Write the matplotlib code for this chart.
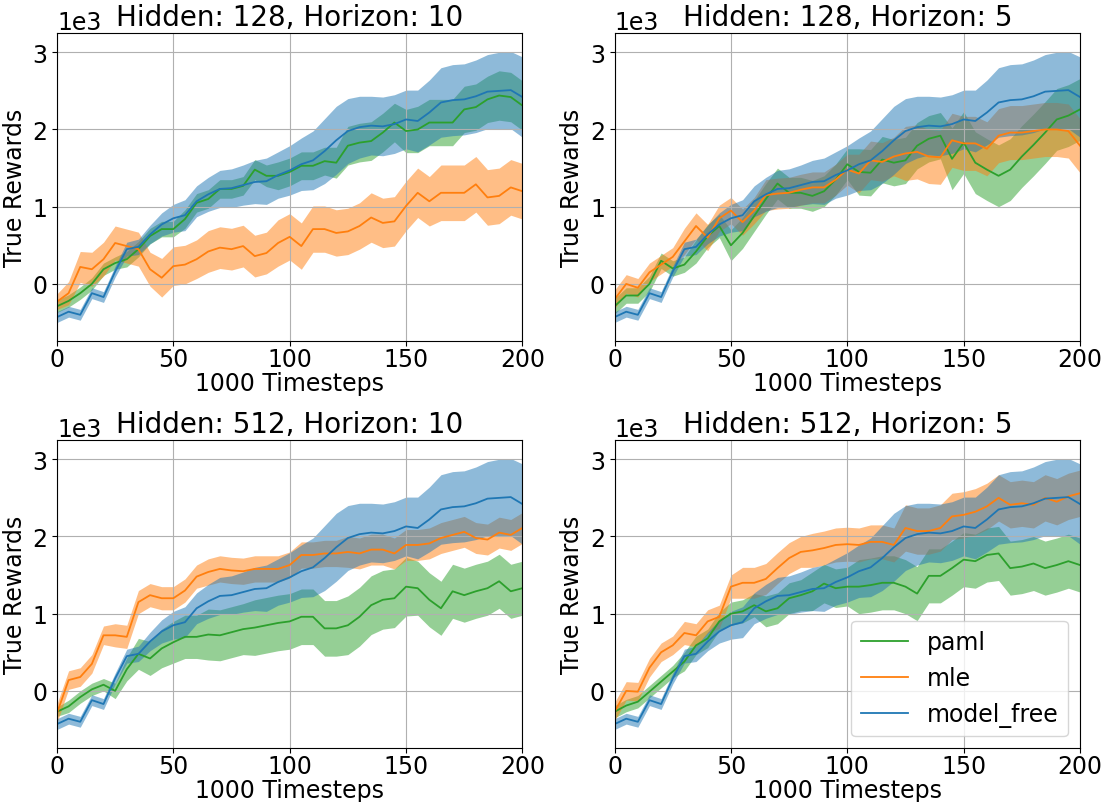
import matplotlib
matplotlib.use('Agg')
import matplotlib.pyplot as plt
import numpy as np

plt.rcParams['font.family'] = ['DejaVu Sans']
plt.rcParams['font.size'] = 17

# timesteps in units of 1000, read every 5
timesteps = np.arange(0, 201, 5)

# rewards in units of 1e3
# model_free does not depend on the model settings, same curve in every panel
model_free = [-0.43, -0.36, -0.40, -0.12, -0.17, 0.16, 0.45, 0.48, 0.64, 0.77,
              0.85, 0.89, 1.07, 1.16, 1.23, 1.24, 1.28, 1.32, 1.33, 1.41,
              1.47, 1.55, 1.60, 1.72, 1.86, 1.98, 2.03, 2.05, 2.04, 2.07,
              2.13, 2.11, 2.22, 2.35, 2.38, 2.39, 2.43, 2.49, 2.50, 2.51, 2.42]
model_free_sd = [0.07, 0.07, 0.07, 0.07, 0.07, 0.07, 0.09, 0.10, 0.12, 0.15,
                 0.18, 0.20, 0.20, 0.22, 0.24, 0.25, 0.26, 0.28, 0.30, 0.30,
                 0.32, 0.34, 0.38, 0.42, 0.44, 0.42, 0.40, 0.38, 0.38, 0.38,
                 0.38, 0.40, 0.42, 0.45, 0.46, 0.46, 0.47, 0.48, 0.50, 0.50, 0.52]

# Hidden 128, Horizon 10
paml_128_10 = [-0.29, -0.22, -0.12, 0.00, 0.19, 0.27, 0.32, 0.45, 0.62, 0.71,
               0.71, 0.84, 1.05, 1.10, 1.23, 1.23, 1.27, 1.48, 1.40, 1.40,
               1.45, 1.53, 1.53, 1.59, 1.57, 1.79, 1.83, 1.85, 1.96, 2.09,
               1.98, 2.00, 2.09, 2.09, 2.09, 2.26, 2.29, 2.39, 2.44, 2.42, 2.31]
paml_128_10_sd = [0.08, 0.08, 0.08, 0.08, 0.08, 0.08, 0.10, 0.10, 0.10, 0.10,
                  0.10, 0.12, 0.12, 0.12, 0.12, 0.12, 0.12, 0.13, 0.14, 0.18,
                  0.18, 0.18, 0.18, 0.18, 0.20, 0.25, 0.25, 0.25, 0.25, 0.25,
                  0.28, 0.30, 0.30, 0.30, 0.30, 0.30, 0.30, 0.30, 0.32, 0.32, 0.32]
mle_128_10 = [-0.23, -0.12, 0.22, 0.19, 0.32, 0.53, 0.49, 0.45, 0.19, 0.08,
              0.23, 0.25, 0.32, 0.42, 0.47, 0.45, 0.49, 0.36, 0.40, 0.53,
              0.61, 0.49, 0.71, 0.71, 0.66, 0.68, 0.75, 0.86, 0.79, 0.81,
              1.01, 1.18, 1.07, 1.18, 1.18, 1.18, 1.29, 1.12, 1.14, 1.25, 1.20]
mle_128_10_sd = [0.10, 0.15, 0.20, 0.22, 0.22, 0.22, 0.22, 0.22, 0.22, 0.25,
                 0.25, 0.25, 0.25, 0.27, 0.27, 0.27, 0.27, 0.27, 0.27, 0.30,
                 0.30, 0.30, 0.30, 0.30, 0.30, 0.30, 0.30, 0.32, 0.32, 0.32,
                 0.32, 0.32, 0.32, 0.36, 0.36, 0.36, 0.36, 0.36, 0.36, 0.36, 0.36]

# Hidden 128, Horizon 5
paml_128_5 = [-0.29, -0.15, -0.15, 0.00, 0.30, 0.20, 0.25, 0.42, 0.62, 0.75,
              0.50, 0.66, 0.88, 1.10, 1.30, 1.18, 1.18, 1.14, 1.20, 1.35,
              1.55, 1.45, 1.44, 1.61, 1.57, 1.60, 1.79, 1.88, 1.92, 1.62,
              1.83, 1.57, 1.48, 1.40, 1.48, 1.65, 1.80, 1.96, 2.13, 2.18, 2.26]
paml_128_5_sd = [0.10, 0.10, 0.10, 0.10, 0.10, 0.10, 0.10, 0.15, 0.15, 0.15,
                 0.20, 0.20, 0.20, 0.20, 0.20, 0.20, 0.20, 0.20, 0.20, 0.20,
                 0.20, 0.30, 0.30, 0.30, 0.30, 0.30, 0.30, 0.30, 0.30, 0.40,
                 0.40, 0.40, 0.40, 0.40, 0.40, 0.40, 0.40, 0.40, 0.40, 0.40, 0.40]
mle_128_5 = [-0.20, 0.00, -0.05, 0.15, 0.25, 0.35, 0.55, 0.75, 0.60, 0.85,
             0.95, 0.80, 0.95, 1.15, 1.17, 1.18, 1.22, 1.25, 1.25, 1.35,
             1.48, 1.43, 1.60, 1.58, 1.65, 1.69, 1.71, 1.65, 1.64, 1.86,
             1.82, 1.82, 1.75, 1.92, 1.96, 1.96, 1.98, 2.00, 2.00, 1.98, 1.79]
mle_128_5_sd = [0.12, 0.12, 0.12, 0.12, 0.12, 0.12, 0.17, 0.17, 0.17, 0.17,
                0.17, 0.17, 0.17, 0.20, 0.20, 0.20, 0.20, 0.20, 0.20, 0.20,
                0.20, 0.25, 0.25, 0.25, 0.25, 0.35, 0.35, 0.35, 0.35, 0.35,
                0.35, 0.35, 0.35, 0.35, 0.35, 0.35, 0.35, 0.35, 0.35, 0.35, 0.35]

# Hidden 512, Horizon 10
paml_512_10 = [-0.27, -0.20, -0.08, 0.02, 0.08, 0.00, 0.28, 0.48, 0.42, 0.55,
               0.63, 0.70, 0.70, 0.73, 0.72, 0.76, 0.80, 0.82, 0.85, 0.88,
               0.90, 0.96, 0.96, 0.81, 0.81, 0.85, 0.96, 1.11, 1.18, 1.20,
               1.35, 1.33, 1.18, 1.07, 1.29, 1.24, 1.29, 1.33, 1.42, 1.29, 1.33]
paml_512_10_sd = [0.06, 0.08, 0.08, 0.08, 0.08, 0.10, 0.15, 0.20, 0.22, 0.25,
                  0.27, 0.28, 0.28, 0.33, 0.33, 0.33, 0.33, 0.36, 0.36, 0.36,
                  0.36, 0.36, 0.36, 0.36, 0.36, 0.38, 0.38, 0.38, 0.38, 0.38,
                  0.38, 0.35, 0.35, 0.35, 0.35, 0.35, 0.35, 0.35, 0.35, 0.35, 0.35]
mle_512_10 = [-0.29, 0.14, 0.18, 0.35, 0.72, 0.72, 0.70, 1.15, 1.24, 1.20,
              1.20, 1.30, 1.48, 1.54, 1.58, 1.56, 1.55, 1.58, 1.58, 1.58,
              1.63, 1.76, 1.76, 1.78, 1.78, 1.80, 1.78, 1.83, 1.83, 1.78,
              1.89, 1.89, 1.91, 1.98, 2.02, 2.06, 1.98, 1.96, 2.05, 2.02, 2.11]
mle_512_10_sd = [0.12, 0.12, 0.12, 0.12, 0.12, 0.15, 0.15, 0.15, 0.15, 0.15,
                 0.15, 0.15, 0.15, 0.17, 0.17, 0.17, 0.17, 0.17, 0.17, 0.17,
                 0.17, 0.17, 0.17, 0.17, 0.17, 0.20, 0.20, 0.20, 0.20, 0.20,
                 0.20, 0.20, 0.20, 0.20, 0.20, 0.20, 0.20, 0.20, 0.20, 0.20, 0.20]

# Hidden 512, Horizon 5
paml_512_5 = [-0.27, -0.19, -0.14, -0.01, 0.12, 0.25, 0.38, 0.59, 0.68, 0.90,
              1.00, 1.03, 1.11, 1.03, 1.07, 1.20, 1.24, 1.29, 1.39, 1.33,
              1.35, 1.35, 1.37, 1.40, 1.40, 1.35, 1.26, 1.49, 1.49, 1.59,
              1.70, 1.68, 1.76, 1.78, 1.59, 1.61, 1.65, 1.59, 1.63, 1.68, 1.63]
paml_512_5_sd = [0.08, 0.08, 0.08, 0.08, 0.08, 0.08, 0.12, 0.12, 0.12, 0.12,
                 0.15, 0.15, 0.15, 0.20, 0.20, 0.20, 0.20, 0.25, 0.25, 0.25,
                 0.25, 0.35, 0.35, 0.35, 0.35, 0.35, 0.35, 0.35, 0.35, 0.35,
                 0.35, 0.35, 0.35, 0.35, 0.35, 0.35, 0.35, 0.35, 0.35, 0.35, 0.35]
mle_512_5 = [-0.27, 0.00, -0.01, 0.30, 0.50, 0.59, 0.75, 0.72, 0.90, 0.96,
             1.35, 1.40, 1.40, 1.45, 1.59, 1.72, 1.80, 1.82, 1.85, 1.89,
             1.90, 1.89, 1.93, 1.93, 1.89, 2.11, 2.07, 2.07, 2.11, 2.26,
             2.28, 2.32, 2.39, 2.50, 2.41, 2.43, 2.41, 2.50, 2.45, 2.52, 2.56]
mle_512_5_sd = [0.12, 0.12, 0.12, 0.12, 0.12, 0.12, 0.15, 0.15, 0.15, 0.15,
                0.15, 0.20, 0.20, 0.20, 0.20, 0.20, 0.20, 0.22, 0.22, 0.22,
                0.22, 0.22, 0.22, 0.22, 0.22, 0.30, 0.30, 0.30, 0.30, 0.30,
                0.30, 0.30, 0.30, 0.30, 0.30, 0.30, 0.30, 0.30, 0.30, 0.30, 0.30]

titles = ['Hidden: 128, Horizon: 10', 'Hidden: 128, Horizon: 5',
          'Hidden: 512, Horizon: 10', 'Hidden: 512, Horizon: 5']
paml_runs = [(paml_128_10, paml_128_10_sd), (paml_128_5, paml_128_5_sd),
             (paml_512_10, paml_512_10_sd), (paml_512_5, paml_512_5_sd)]
mle_runs = [(mle_128_10, mle_128_10_sd), (mle_128_5, mle_128_5_sd),
            (mle_512_10, mle_512_10_sd), (mle_512_5, mle_512_5_sd)]

fig, axes = plt.subplots(2, 2, figsize=(11.06, 8.03), dpi=100)
fig.subplots_adjust(left=0.0515, right=0.9765, bottom=0.0672, top=0.9577,
                    wspace=0.198, hspace=0.321)


def plot_run(ax, mean, sd, color, label):
    mean = np.array(mean) * 1000
    sd = np.array(sd) * 1000
    ax.fill_between(timesteps, mean - sd, mean + sd, color=color, alpha=0.5, linewidth=0)
    ax.plot(timesteps, mean, color=color, label=label, linewidth=1.3)


for i, ax in enumerate(axes.flat):
    plot_run(ax, *paml_runs[i], 'tab:green', 'paml')
    plot_run(ax, *mle_runs[i], 'tab:orange', 'mle')
    plot_run(ax, model_free, model_free_sd, 'tab:blue', 'model_free')
    ax.set_title(titles[i], fontsize=20)
    ax.set_xlim(0, 200)
    ax.set_ylim(-740, 3250)
    ax.set_xticks([0, 50, 100, 150, 200])
    ax.set_yticks([0, 1000, 2000, 3000])
    ax.tick_params(axis='x', pad=0.5)
    ax.ticklabel_format(axis='y', style='sci', scilimits=(0, 0))
    ax.set_xlabel('1000 Timesteps', labelpad=0)
    ax.set_ylabel('True Rewards', labelpad=4)
    ax.grid(True)

axes[1, 1].legend(loc='lower right')

fig.savefig('out.png')
